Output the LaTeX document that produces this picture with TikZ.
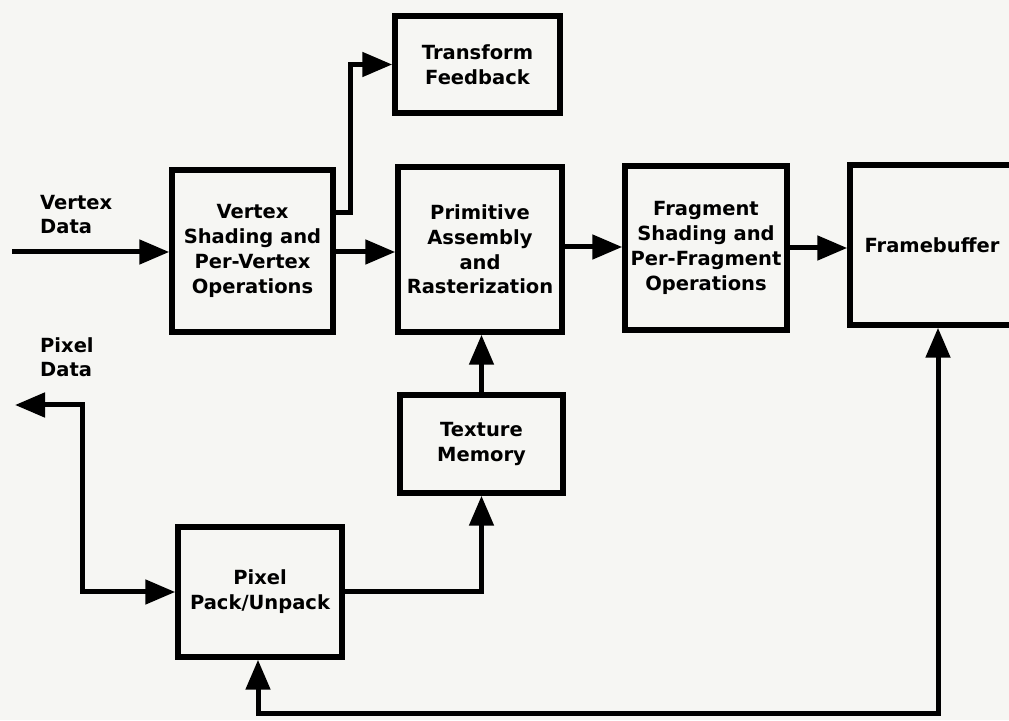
\documentclass[tikz,border=0pt]{standalone}
\usepackage{fontspec}
\setmainfont{DejaVu Sans}
\usetikzlibrary{arrows.meta}
\definecolor{paper}{RGB}{246,246,243}
\tikzset{
  blk/.style={draw=black, line width=5.5pt, fill=paper, inner sep=0pt, align=center,
    font=\bfseries\fontsize{19.5}{24.8}\selectfont},
  lbl/.style={inner sep=0pt, align=left, anchor=west, font=\bfseries\fontsize{19.5}{24}\selectfont},
  conn/.style={line width=5pt, -{Triangle[length=30pt,width=24pt]}},
  conn2/.style={line width=5pt, {Triangle[length=30pt,width=24pt]}-{Triangle[length=30pt,width=24pt]}}
}
\begin{document}
\begin{tikzpicture}[x=1pt,y=1pt]
\fill[paper] (0,0) rectangle (1009,720);
\useasboundingbox (0,0) rectangle (1009,720);

\node[blk, minimum width=161pt, minimum height=162pt] (vs) at (252.5,469) {Vertex\\Shading and\\Per-Vertex\\Operations};
\node[blk, minimum width=165pt, minimum height=97pt] (tf) at (477.5,655.5) {Transform\\Feedback};
\node[blk, minimum width=164pt, minimum height=165pt] (pa) at (480,470.5) {Primitive\\Assembly\\and\\Rasterization};
\node[blk, minimum width=162pt, minimum height=164pt] (fs) at (706,472) {Fragment\\Shading and\\Per-Fragment\\Operations};
\node[blk, minimum width=164pt, minimum height=160pt] (fb) at (932,475) {Framebuffer};
\node[blk, minimum width=163pt, minimum height=98pt] (tm) at (481.5,276) {Texture\\Memory};
\node[blk, minimum width=164pt, minimum height=130pt] (pp) at (260,128) {Pixel\\Pack/Unpack};

\node[lbl] (vd) at (40,505) {Vertex\\Data};
\node[lbl] (pd) at (40,363) {Pixel\\Data};

\coordinate (vin) at (12,468);
\coordinate (tfx) at (350,507);
\coordinate (pout) at (15,315);
\coordinate (pcorner) at (82,315);
\coordinate (bot) at (0,7);

\draw[conn] (vin) -- (vin -| vs.west);
\draw[conn] (vs.east |- vin) -- (vin -| pa.west);
\draw[conn] (vs.east |- tfx) -- (tfx) |- (tf.west);
\draw[conn] (pa.east |- 0,473) -- (fs.west |- 0,473);
\draw[conn] (fs.east |- 0,472) -- (fb.west |- 0,472);
\draw[conn] (tm.north) -- (tm.north |- pa.south);
\draw[conn] (pp.east) -| (tm.south);
\draw[conn2] (pout) -- (pcorner) |- (pp.west);
\draw[conn2] ([xshift=-2pt]pp.south) -- ([xshift=-2pt]pp.south |- bot) -| ([xshift=6pt]fb.south);
\end{tikzpicture}
\end{document}
